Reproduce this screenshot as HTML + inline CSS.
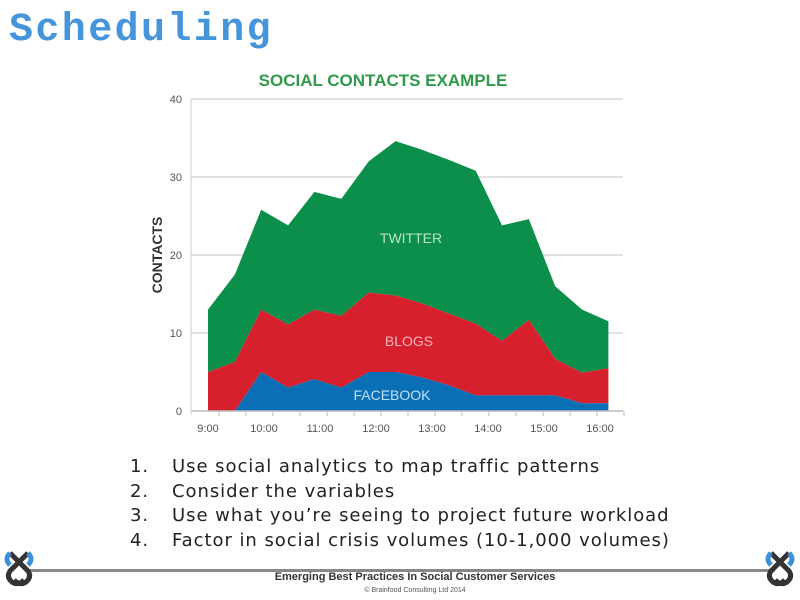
<!DOCTYPE html>
<html><head><meta charset="utf-8"><style>
body{margin:0;width:800px;height:600px;background:#fff;position:relative;overflow:hidden;font-family:"Liberation Sans",sans-serif}
.abs{position:absolute}
.tip{display:flex}
.tip span:first-child{display:inline-block;width:42px}
</style></head><body>
<div class="abs" style="left:9px;top:8px;font-family:'Liberation Mono',monospace;font-weight:bold;font-size:40px;letter-spacing:2.4px;color:#4595dc;">Scheduling</div>
<svg class="abs" style="left:0;top:0" width="800" height="600">
<text x="383" y="86" text-anchor="middle" font-weight="bold" font-size="17" fill="#2e9a4a">SOCIAL CONTACTS EXAMPLE</text>
<g id="grid"></g><g id="areas"></g><g id="axes"></g>
<text x="0" y="0" transform="translate(162,255) rotate(-90)" text-anchor="middle" font-weight="bold" font-size="14" fill="#333">CONTACTS</text>
<text x="411" y="243" text-anchor="middle" font-size="14" fill="#b8e6c4">TWITTER</text>
<text x="409" y="346" text-anchor="middle" font-size="14" fill="#f4b4b8">BLOGS</text>
<text x="392" y="400" text-anchor="middle" font-size="14" fill="#bfe0f4">FACEBOOK</text>
</svg>
<div class="abs" style="left:130px;top:455px;font-family:'DejaVu Sans',sans-serif;font-size:18px;letter-spacing:0.95px;line-height:24.5px;color:#222;">
<div class="tip"><span>1.</span><span>Use social analytics to map traffic patterns</span></div>
<div class="tip"><span>2.</span><span>Consider the variables</span></div>
<div class="tip"><span>3.</span><span>Use what you’re seeing to project future workload</span></div>
<div class="tip"><span>4.</span><span>Factor in social crisis volumes (10-1,000 volumes)</span></div>
</div>
<div class="abs" style="left:25px;top:569px;width:750px;height:3px;background:#888"></div>
<svg class="abs" style="left:2px;top:549px" width="34" height="38"><path d="M8 4 L26 22 Q30 28 24 33 Q18 37 12 31 M26 4 L8 22 Q4 28 10 33 Q16 37 22 31" fill="none" stroke="#333" stroke-width="5"/><path d="M8 4 Q2 10 8 16 M26 4 Q32 10 26 16" fill="none" stroke="#3d8fd8" stroke-width="5"/></svg>
<svg class="abs" style="left:763px;top:549px" width="34" height="38"><path d="M8 4 L26 22 Q30 28 24 33 Q18 37 12 31 M26 4 L8 22 Q4 28 10 33 Q16 37 22 31" fill="none" stroke="#333" stroke-width="5"/><path d="M8 4 Q2 10 8 16 M26 4 Q32 10 26 16" fill="none" stroke="#3d8fd8" stroke-width="5"/></svg>
<div class="abs" style="left:0;width:830px;top:571px;text-align:center;font-size:11px;font-weight:bold;color:#333">Emerging Best Practices In Social Customer Services</div>
<div class="abs" style="left:0;width:830px;top:587px;text-align:center;font-size:7px;color:#555">© Brainfood Consulting Ltd 2014</div>
<script>
const times=[9.00,9.48,9.95,10.43,10.90,11.38,11.87,12.35,12.82,13.30,13.78,14.25,14.73,15.20,15.68,16.15];
const facebook=[0,0,5,3,4.1,3,5,5,4.3,3.3,2,2,2,2,1,1];
const blogs=[5,6.3,8,8.1,8.9,9.2,10.2,9.8,9.5,9.2,9.2,7,9.7,4.7,3.9,4.5];
const twitter=[8,11.2,12.8,12.7,15.1,15,16.8,19.8,19.7,19.7,19.6,14.8,12.9,9.3,8.1,6];
const yTicks=[0,10,20,30,40];
const xLabels=["9:00","10:00","11:00","12:00","13:00","14:00","15:00","16:00"];
const xLabelHours=[9,10,11,12,13,14,15,16];
const NS="http://www.w3.org/2000/svg";
const X=h=>208+(h-9)*56, Y=v=>411-v*7.8;
function mk(t,a,p){const e=document.createElementNS(NS,t);for(const k in a)e.setAttribute(k,a[k]);p.appendChild(e);return e;}
const grid=document.getElementById('grid'),areas=document.getElementById('areas'),axes=document.getElementById('axes');
yTicks.forEach(v=>{
 if(v>0){const g=mk('line',{x1:191,x2:623,y1:Y(v),y2:Y(v),stroke:'#d8d8d8','stroke-width':1.5},grid);
 
 }
 const t=mk('text',{x:182,y:Y(v)+4,'text-anchor':'end','font-size':11,fill:'#555'},axes);t.textContent=v;
 
 
});
let c1=facebook.map((v,i)=>v),c2=facebook.map((v,i)=>v+blogs[i]),c3=c2.map((v,i)=>v+twitter[i]);
function area(top,bot,color,name){
 let d='M'+times.map((t,i)=>X(t)+','+Y(top[i])).join(' L');
 for(let i=times.length-1;i>=0;i--)d+=' L'+X(times[i])+','+Y(bot[i]);
 const p=mk('path',{d:d+'Z',fill:color},areas);
 
 
}
const zero=times.map(()=>0);
area(c3,c2,'#0b8f4a','twitter-area');
area(c2,c1,'#d7202e','blogs-area');
area(c1,zero,'#0a6fb5','facebook-area');
const ax=mk('line',{x1:191,x2:623,y1:Y(0),y2:Y(0),stroke:'#bbb','stroke-width':1.5},axes);


const ay=mk('line',{x1:191,x2:191,y1:Y(40),y2:Y(0)+4,stroke:'#ccc','stroke-width':1},axes);


for(let k=0;k<16;k++){const tx=219+k*27;mk('line',{x1:tx,x2:tx,y1:Y(0),y2:Y(0)+5,stroke:'#bbb'},axes);}
xLabels.forEach((l,i)=>{const t=mk('text',{x:X(xLabelHours[i]),y:432,'text-anchor':'middle','font-size':11,fill:'#555'},axes);t.textContent=l;
 
 });
</script>
</body></html>
